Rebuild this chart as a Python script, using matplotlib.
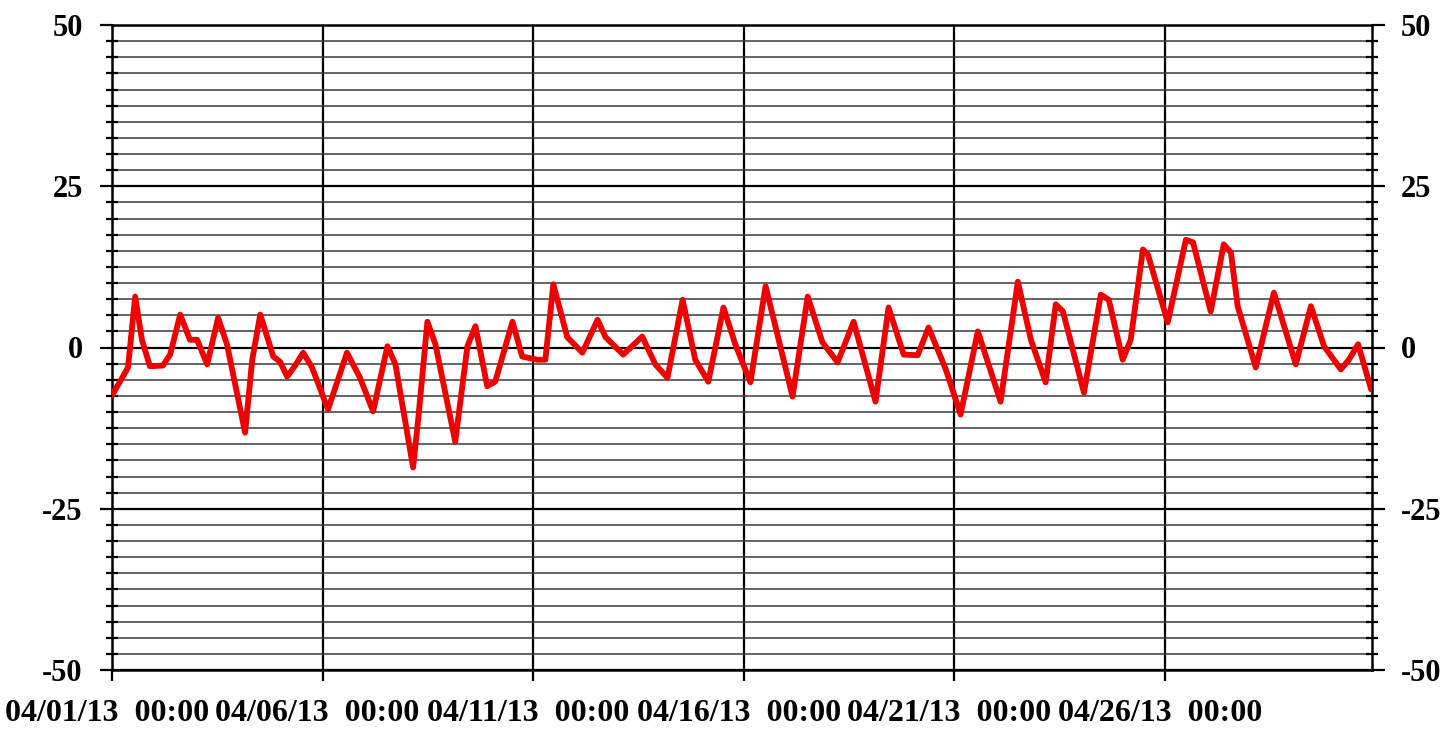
import matplotlib
matplotlib.use("Agg")
import matplotlib.pyplot as plt
import matplotlib.dates as mdates
import matplotlib.transforms as mtransforms
from matplotlib.ticker import MultipleLocator
import pandas as pd

plt.rcParams["axes.unicode_minus"] = False
plt.rcParams["font.weight"] = "bold"

# temperature trace (days since 04/01/13 00:00)
days = [0.00, 0.26, 0.38, 0.55, 0.71, 0.90, 1.21, 1.38, 1.62, 1.85,
        2.02, 2.26, 2.52, 2.73, 3.16, 3.33, 3.52, 3.83, 3.99, 4.16,
        4.35, 4.54, 4.75, 5.13, 5.58, 5.89, 6.20, 6.54, 6.73, 7.15,
        7.27, 7.49, 7.68, 8.15, 8.44, 8.63, 8.91, 9.10, 9.51, 9.74,
        10.10, 10.29, 10.48, 10.81, 11.17, 11.53, 11.72, 12.14, 12.59, 12.90,
        13.19, 13.55, 13.85, 14.16, 14.52, 14.80, 15.16, 15.52, 16.16, 16.52,
        16.87, 17.23, 17.61, 18.13, 18.44, 18.80, 19.13, 19.39, 19.80, 20.15,
        20.56, 21.10, 21.51, 21.82, 22.17, 22.41, 22.58, 23.08, 23.48, 23.67,
        24.00, 24.19, 24.48, 24.60, 25.07, 25.50, 25.67, 26.09, 26.40, 26.57,
        26.73, 27.16, 27.59, 28.11, 28.47, 28.78, 29.18, 29.37, 29.59, 29.90]
temps = [-7.4, -4.5, -3.1, 7.9, 1.2, -2.9, -2.8, -1.1, 5.1, 1.2,
         1.2, -2.6, 4.6, 0.5, -13.2, -1.9, 5.1, -1.4, -2.2, -4.5,
         -2.8, -0.8, -3.1, -9.6, -0.8, -4.7, -9.9, 0.2, -2.6, -18.6,
         -11.2, 4.0, 0.5, -14.6, 0.2, 3.3, -6.0, -5.3, 4.0, -1.4,
         -1.9, -1.9, 9.8, 1.6, -0.8, 4.3, 1.6, -1.1, 1.7, -2.6,
         -4.7, 7.4, -1.9, -5.3, 6.2, 0.5, -5.4, 9.5, -7.6, 7.9,
         0.8, -2.3, 4.0, -8.4, 6.2, -1.1, -1.2, 3.1, -3.4, -10.4,
         2.5, -8.4, 10.2, 1.2, -5.4, 6.7, 5.6, -7.0, 8.2, 7.4,
         -1.9, 1.2, 15.2, 14.4, 3.9, 16.7, 16.3, 5.6, 16.0, 14.7,
         6.4, -3.1, 8.5, -2.6, 6.4, 0.2, -3.4, -1.9, 0.5, -6.5]

start = pd.Timestamp("2013-04-01 00:00")
end = start + pd.Timedelta(days=29.92)
times = start + pd.to_timedelta(days, unit="D")

fig = plt.figure(figsize=(14.44, 7.36), dpi=100)
ax = fig.add_axes([112 / 1444, 1 - 670 / 736, (1372 - 112) / 1444, (670 - 25) / 736])

ax.plot(times, temps, color="#ee0000", lw=4.2, solid_joinstyle="round",
        solid_capstyle="round", zorder=3)

ax.set_xlim(start, end)
ax.set_ylim(-50, 50)
ax.yaxis.set_major_locator(MultipleLocator(25))
ax.yaxis.set_minor_locator(MultipleLocator(2.5))
ax.xaxis.set_major_locator(mdates.DayLocator(bymonthday=[1, 6, 11, 16, 21, 26]))
ax.xaxis.set_major_formatter(mdates.DateFormatter("%m/%d/%y  %H:%M"))

ax.grid(True, which="major", color="black", lw=1.6, zorder=1)
ax.grid(True, which="minor", axis="y", color="#3a3a3a", lw=1.1, zorder=1)

for s in ax.spines.values():
    s.set_linewidth(1.8)
    s.set_color("black")

ax.tick_params(axis="y", which="major", direction="out", length=9, width=1.6,
               left=True, right=True, labelleft=True, labelright=True, pad=12)
ax.tick_params(axis="y", which="minor", direction="inout", length=8, width=1.6,
               left=True, right=True)
ax.tick_params(axis="x", which="major", direction="out", length=8, width=1.6, pad=13)

fig.canvas.draw()
for t in ax.yaxis.get_major_ticks():
    for lab in (t.label1, t.label2):
        lab.set_fontfamily("Liberation Serif")
        lab.set_fontsize(22)
        lab.set_fontweight("bold")
shift = mtransforms.ScaledTranslation(-5 / 100, 0, fig.dpi_scale_trans)
for t in ax.xaxis.get_major_ticks():
    t.label1.set_fontfamily("Liberation Serif")
    t.label1.set_fontsize(23)
    t.label1.set_fontweight("bold")
    t.label1.set_transform(t.label1.get_transform() + shift)

fig.savefig("out.png", dpi=100, facecolor="white")
